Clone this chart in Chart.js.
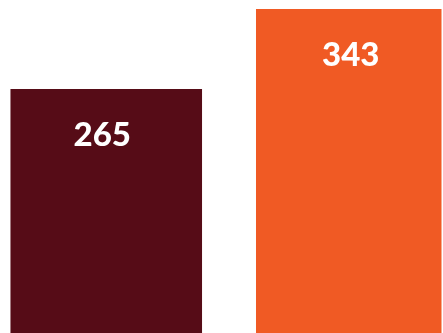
<!DOCTYPE html>
<html>
<head>
<meta charset="utf-8">
<script src="https://cdn.jsdelivr.net/npm/chart.js@4/dist/chart.umd.min.js"></script>
<style>
  html, body { margin: 0; padding: 0; background: #fff; overflow: hidden; width: 443px; height: 333px; }
  #wrap { position: absolute; left: -15px; top: 0; width: 485px; height: 361px; }
</style>
</head>
<body>
<div id="wrap"><canvas id="myChart"></canvas></div>
<script>
var categories = ['A', 'B'];
var values = [265, 343];
var colors = ['#560c17', '#f05a24'];
var barWidths = [0.79, 0.765];

// one dataset per bar so each bar keeps its own width and colour
var datasets = values.map(function (v, i) {
	return {
		data: values.map(function (x, j) { return j === i ? x : null; }),
		backgroundColor: colors[i],
		barPercentage: barWidths[i],
		categoryPercentage: 1,
		borderWidth: 0
	};
});

var labelShift = [-4, 2];

var valueLabels = {
	id: 'valueLabels',
	afterDatasetsDraw: function (chart) {
		var ctx = chart.ctx;
		ctx.save();
		ctx.fillStyle = '#fff';
		ctx.font = '900 33px Lato, "Liberation Sans", sans-serif';
		ctx.textAlign = 'center';
		ctx.textBaseline = 'middle';
		chart.data.datasets.forEach(function (ds, i) {
			chart.getDatasetMeta(i).data.forEach(function (bar, j) {
				if (ds.data[j] == null) return;
				ctx.fillText(String(ds.data[j]), bar.x + labelShift[i], bar.y + 46);
			});
		});
		ctx.restore();
	}
};

new Chart(document.getElementById('myChart').getContext('2d'), {
	type: 'bar',
	data: { labels: categories, datasets: datasets },
	options: {
		responsive: true,
		maintainAspectRatio: false,
		animation: false,
		layout: { padding: { top: 9, left: 0, right: 0, bottom: 0 } },
		plugins: { legend: { display: false }, tooltip: { enabled: false } },
		datasets: { bar: { grouped: false } },
		scales: {
			x: { display: false, grid: { display: false } },
			y: { display: false, min: 0, max: 343, grid: { display: false } }
		}
	},
	plugins: [valueLabels]
});
</script>
</body>
</html>
